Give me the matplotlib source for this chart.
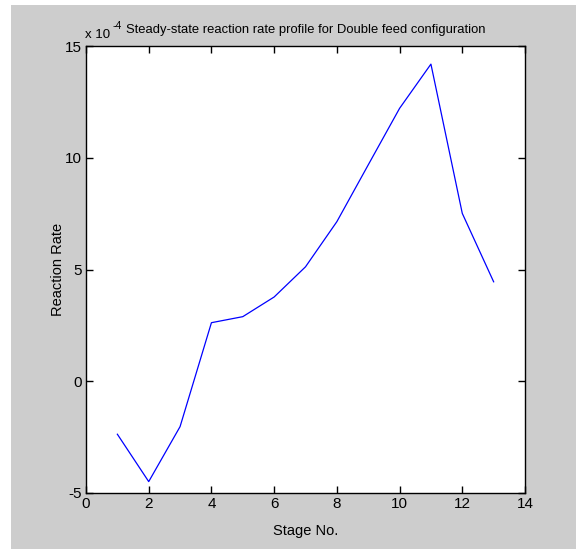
import matplotlib.pyplot as plt
from matplotlib.patches import Rectangle

plt.rcParams['font.family'] = ['Liberation Sans', 'DejaVu Sans']
plt.rcParams['axes.unicode_minus'] = False

# datos (en unidades de 1e-4)
stages = [1, 2, 3, 4, 5, 6, 7, 8, 9, 10, 11, 12, 13]
rate = [-2.37, -4.49, -2.03, 2.62, 2.89, 3.77, 5.12, 7.14, 9.68, 12.21, 14.19, 7.51, 4.45]
xticks = [0, 2, 4, 6, 8, 10, 12, 14]
yticks = [-5, 0, 5, 10, 15]

W, H = 579, 549
fig = plt.figure(figsize=(W / 100, H / 100), dpi=100, facecolor='white')
# fondo gris estilo matlab
fig.patches.append(Rectangle((11 / W, 0), (576 - 11) / W, (H - 5) / H,
                             transform=fig.transFigure, facecolor='#cdcdcd',
                             edgecolor='none', zorder=-1))

ax = fig.add_axes([86 / W, (H - 493) / H, (525 - 86) / W, (493 - 46) / H])
ax.plot(stages, rate, color='#0000ff', lw=0.9)
ax.set_xlim(0, 14)
ax.set_ylim(-5, 15)
ax.set_xticks(xticks)
ax.set_yticks(yticks)
ax.tick_params(direction='in', length=5, width=1, labelsize=11, pad=3,
               top=True, right=True)
for s in ax.spines.values():
    s.set_linewidth(1)
ax.set_xlabel('Stage No.', fontsize=10.5, labelpad=9)
ax.set_ylabel('Reaction Rate', fontsize=10.5, labelpad=0)
# factor de escala estilo matlab
ax.text(-0.003, 1.012, 'x 10', transform=ax.transAxes, fontsize=9.5,
        ha='left', va='bottom')
ax.text(0.06, 1.034, '-4', transform=ax.transAxes, fontsize=7.5,
        ha='left', va='bottom')
ax.text(0.09, 1.022, 'Steady-state reaction rate profile for Double feed configuration',
        transform=ax.transAxes, fontsize=9.4, ha='left', va='bottom')

fig.savefig('out.png', dpi=100, facecolor='white')
